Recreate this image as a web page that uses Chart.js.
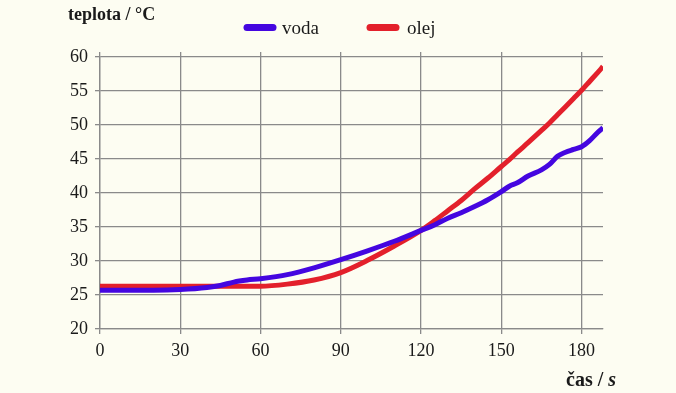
<!DOCTYPE html>
<html>
<head>
<meta charset="utf-8">
<script src="https://cdn.jsdelivr.net/npm/chart.js@4"></script>
<style>
  body { margin: 0; background: #fdfdf2; }
  #wrap { width: 676px; height: 393px; }
</style>
</head>
<body>
<div id="wrap"><canvas id="tempChart"></canvas></div>
<script>
// čas v sekundách
const times = [0, 10, 20, 30, 40, 45, 50, 55, 60, 70, 80, 90, 100, 110, 120, 125, 130, 135, 140, 145, 150, 153, 156, 160, 165, 168, 171, 174, 177, 180, 183, 186, 188];
const voda = [25.7, 25.7, 25.7, 25.8, 26.1, 26.4, 26.9, 27.2, 27.4, 28.0, 29.0, 30.2, 31.5, 32.9, 34.5, 35.3, 36.3, 37.1, 38.0, 39.0, 40.2, 41.0, 41.5, 42.5, 43.4, 44.2, 45.4, 46.0, 46.4, 46.8, 47.7, 48.9, 49.6];
const olej = [26.3, 26.3, 26.3, 26.3, 26.3, 26.3, 26.3, 26.3, 26.3, 26.6, 27.2, 28.3, 30.1, 32.2, 34.5, 35.9, 37.4, 38.9, 40.6, 42.2, 43.9, 44.9, 46.0, 47.4, 49.2, 50.3, 51.5, 52.7, 53.9, 55.1, 56.4, 57.7, 58.6];
const xTicks = [0, 30, 60, 90, 120, 150, 180];
const seriesNames = ['voda', 'olej'];
const seriesColors = ['#4406e0', '#e3202b'];
const yTitle = 'teplota / °C';
const xTitle = 'čas / s';

const toPoints = vals => vals.map((v, i) => ({ x: times[i], y: v }));
const serif = '"Liberation Serif", "DejaVu Serif", serif';
const gridColor = '#8a8a8a';

// popisky os a legenda
const textPlugin = {
  id: 'texts',
  afterDraw(chart) {
    const c = chart.ctx;
    c.save();
    c.fillStyle = '#1a1a1a';
    c.textBaseline = 'alphabetic';
    c.textAlign = 'left';
    c.font = 'bold 18px ' + serif;
    c.fillText(yTitle, 68, 20);
    c.font = 'bold 20px ' + serif;
    c.fillText('čas / ', 566, 386);
    const w = c.measureText('čas / ').width;
    c.font = 'italic bold 20px ' + serif;
    c.fillText('s', 566 + w, 386);

    // legenda
    const items = [{ x: 243, tx: 282 }, { x: 366, tx: 407 }];
    c.font = '19px ' + serif;
    items.forEach((it, i) => {
      c.strokeStyle = seriesColors[i];
      c.lineWidth = 7;
      c.lineCap = 'round';
      c.beginPath();
      c.moveTo(it.x + 4, 27.5);
      c.lineTo(it.x + 30, 27.5);
      c.stroke();
      c.fillStyle = '#1a1a1a';
      c.fillText(seriesNames[i], it.tx, 34);
    });
    c.restore();
  }
};

const ctx = document.getElementById('tempChart').getContext('2d');
const tempChart = new Chart(ctx, {
  type: 'line',
  data: {
    datasets: [
      {
        label: seriesNames[0],
        data: toPoints(voda),
        borderColor: seriesColors[0],
        backgroundColor: seriesColors[0],
        borderWidth: 5,
        pointRadius: 0,
        cubicInterpolationMode: 'monotone'
      },
      {
        label: seriesNames[1],
        data: toPoints(olej),
        borderColor: seriesColors[1],
        backgroundColor: seriesColors[1],
        borderWidth: 5,
        pointRadius: 0,
        cubicInterpolationMode: 'monotone'
      }
    ]
  },
  options: {
    responsive: true,
    maintainAspectRatio: false,
    animation: false,
    layout: { padding: { left: 60, right: 73, top: 52, bottom: 0 } },
    plugins: {
      legend: { display: false },
      tooltip: { enabled: false }
    },
    scales: {
      x: {
        type: 'linear',
        min: 0,
        max: 188,
        ticks: {
          padding: 6,
          color: '#1a1a1a',
          font: { family: serif, size: 18 }
        },
        afterBuildTicks: s => { s.ticks = xTicks.map(v => ({ value: v })); },
        afterFit: s => { s.height = 64; },
        grid: { color: gridColor, lineWidth: 1.3, tickLength: 5 },
        border: { color: gridColor, width: 1.3 }
      },
      xTop: {
        type: 'linear',
        position: 'top',
        min: 0,
        max: 188,
        ticks: { display: false },
        afterBuildTicks: s => { s.ticks = xTicks.map(v => ({ value: v })); },
        afterFit: s => { s.height = 5; },
        grid: { drawOnChartArea: false, color: gridColor, lineWidth: 1.3, tickLength: 5 },
        border: { display: false }
      },
      y: {
        min: 20,
        max: 60,
        ticks: {
          stepSize: 5,
          padding: 7,
          color: '#1a1a1a',
          font: { family: serif, size: 18 }
        },
        afterFit: s => { s.width = 40; },
        grid: { color: gridColor, lineWidth: 1.3, tickLength: 5 },
        border: { color: gridColor, width: 1.3 }
      }
    }
  },
  plugins: [textPlugin]
});
</script>
</body>
</html>
